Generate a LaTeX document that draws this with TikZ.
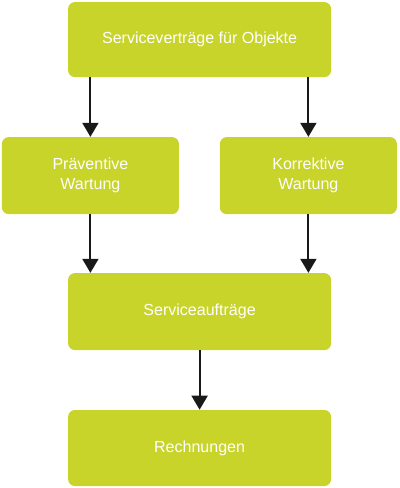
\documentclass[tikz,border=0pt]{standalone}
\usepackage{fontspec}
\setmainfont{Liberation Sans}
\usetikzlibrary{arrows.meta}
\definecolor{boxgreen}{HTML}{C8D42A}

\begin{document}
\begin{tikzpicture}[box/.style={fill=boxgreen, draw=none, rounded corners=0.17cm, text=white, align=center, font=\fontsize{11.4}{14.2}\selectfont, inner sep=0pt}, arr/.style={draw=black!90, line width=1.3pt, -{Triangle[width=4mm,length=3.5mm]}}]
  \useasboundingbox (0,0) rectangle (10,-12.2);
  \node[box, minimum width=6.575cm, minimum height=1.875cm] (vertrag) at (4.99,-0.99) {Serviceverträge für Objekte};
  \node[box, minimum width=4.425cm, minimum height=1.925cm] (praev) at (2.26,-4.39) {Präventive\\Wartung}; \node[box, minimum width=4.425cm, minimum height=1.925cm] (korr) at (7.71,-4.39) {Korrektive\\Wartung};
  \node[box, minimum width=6.575cm, minimum height=1.925cm] (auftrag) at (4.99,-7.79) {Serviceaufträge};
  \node[box, minimum width=6.575cm, minimum height=1.9cm] (rechn) at (4.99,-11.2) {Rechnungen};
  \draw[arr] (praev.north |- vertrag.south) -- (praev.north); \draw[arr] (korr.north |- vertrag.south) -- (korr.north);
  \draw[arr] (praev.south) -- (praev.south |- auftrag.north); \draw[arr] (korr.south) -- (korr.south |- auftrag.north);
  \draw[arr] (auftrag.south) -- (rechn.north);
\end{tikzpicture}
\end{document}
